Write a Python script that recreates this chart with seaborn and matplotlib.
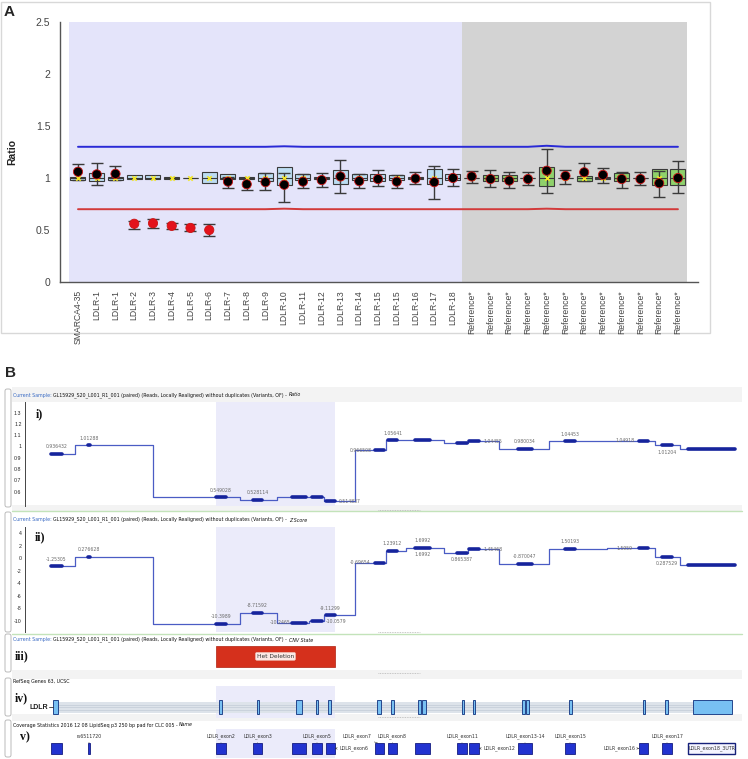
import numpy as np
import pandas as pd
import matplotlib
matplotlib.use("Agg")
import matplotlib.pyplot as plt
import seaborn as sns
from matplotlib.patches import Rectangle, FancyBboxPatch

# ---------------- Panel A: MLPA-style probe ratios ----------------
probe_labels = ["SMARCA4-35", "LDLR-1", "LDLR-1", "LDLR-2", "LDLR-3", "LDLR-4", "LDLR-5",
                "LDLR-6", "LDLR-7", "LDLR-8", "LDLR-9", "LDLR-10", "LDLR-11", "LDLR-12",
                "LDLR-13", "LDLR-14", "LDLR-15", "LDLR-15", "LDLR-16", "LDLR-17", "LDLR-18"] + ["Reference*"] * 12
probe_group = ["sample"] * 21 + ["reference"] * 12

ratio = [1.06, 1.035, 1.04, 0.56, 0.565, 0.54, 0.52, 0.50, 0.965, 0.94, 0.96, 0.935, 0.965,
         0.98, 1.015, 0.97, 0.99, 0.965, 0.995, 0.96, 1.0,
         1.015, 0.99, 0.975, 0.99, 1.07, 1.02, 1.055, 1.03, 0.99, 0.99, 0.95, 1.0]
ratio_lo = [0.98, 0.93, 0.98, 0.51, 0.52, 0.51, 0.49, 0.44, 0.90, 0.88, 0.88, 0.77, 0.90,
            0.91, 0.86, 0.905, 0.92, 0.90, 0.94, 0.80, 0.92,
            0.95, 0.915, 0.905, 0.93, 0.855, 0.945, 0.975, 0.95, 0.905, 0.935, 0.82, 0.855]
ratio_hi = [1.13, 1.14, 1.115, 0.59, 0.61, 0.57, 0.56, 0.56, 1.01, 1.0, 1.045, 1.05, 1.04,
            1.045, 1.17, 1.04, 1.075, 1.03, 1.055, 1.12, 1.09,
            1.07, 1.075, 1.055, 1.055, 1.28, 1.075, 1.14, 1.095, 1.06, 1.06, 1.07, 1.16]
box_lo = [0.985, 0.97, 0.985, 0.99, 0.99, 0.995, 0.998, 0.955, 0.99, 0.995, 0.97, 0.93, 0.985,
          0.99, 0.945, 0.985, 0.975, 0.985, 0.995, 0.94, 0.98,
          0.998, 0.975, 0.975, 0.998, 0.92, 0.998, 0.975, 0.995, 0.97, 0.998, 0.935, 0.935]
box_hi = [1.01, 1.05, 1.005, 1.025, 1.025, 1.005, 1.002, 1.055, 1.035, 1.005, 1.045, 1.105, 1.04,
          1.01, 1.08, 1.04, 1.035, 1.025, 1.005, 1.09, 1.035,
          1.002, 1.03, 1.03, 1.002, 1.105, 1.002, 1.02, 1.005, 1.045, 1.002, 1.09, 1.09]
box_med = [1.0] * 33
upper_thr = [1.30] * 11 + [1.305] + [1.30] * 13 + [1.31] + [1.30] * 7
lower_thr = [0.70] * 11 + [0.705] + [0.70] * 13 + [0.705] + [0.70] * 7

# ---------------- Panel B: CLC CNV tracks ----------------
exon_names = ["", "rs6511720", "LDLR_exon2", "LDLR_exon3", "", "LDLR_exon5", "LDLR_exon6",
              "LDLR_exon7", "LDLR_exon8", "", "LDLR_exon11", "LDLR_exon12", "LDLR_exon13-14",
              "LDLR_exon15", "LDLR_exon16", "LDLR_exon17", "LDLR_exon18_3UTR"]
exon_start = [51, 88, 216, 253, 292, 312, 326, 375, 388, 415, 457, 469, 518, 565, 639, 662, 688]
exon_end = [62, 90, 226, 262, 306, 322, 335, 384, 397, 430, 467, 479, 532, 575, 648, 672, 735]
ratio_track = [0.936432, 1.01288, 0.549028, 0.528114, 0.552, 0.550, 0.514837, 0.966508, 1.05641,
               1.05641, 1.035, 1.04455, 0.980034, 1.04453, 1.04918, 1.01204, 0.981]
ratio_shown = [1, 1, 1, 1, 0, 0, 1, 1, 1, 0, 0, 1, 1, 1, 1, 1, 0]
zscore_track = [-1.25305, 0.276628, -10.3989, -8.71592, -10.2465, -10.0579, -9.11299, -0.69654,
                1.23912, 1.6992, 0.865387, 1.45468, -0.870047, 1.50193, 1.5959, 0.287529, -1.1]
zscore_shown = [1] * 16 + [0]
refseq_start = [53, 219, 257, 296, 316, 328, 377, 391, 418, 422, 462, 473, 522, 526, 569, 643, 665, 693]
refseq_end = [58, 222, 259, 302, 318, 331, 381, 394, 421, 426, 464, 475, 525, 529, 572, 645, 668, 732]
deletion_start, deletion_end = 216, 335
cnv_state = "Het Deletion"
sample_desc = "GL15929_S20_L001_R1_001 (paired) (Reads, Locally Realigned) without duplicates (Variants, OF)"

# label placement (layout only): a=above, b=below, l=left, r=right, ab=both
ratio_place = ["a", "a", "a", "a", "", "", "r", "l", "a", "", "", "r", "a", "a", "l", "b", ""]
zscore_place = ["a", "a", "a", "a", "l", "r", "a", "l", "a", "ab", "b", "r", "a", "a", "l", "b", ""]
name_place = ["", "a", "a", "a", "", "a", "r", "al", "a", "", "a", "r", "a", "a", "l", "a", "in"]

sns.set_style("white")
plt.rcParams["font.family"] = ["Liberation Sans", "DejaVu Sans"]
plt.rcParams["axes.unicode_minus"] = False

W, H = 748, 759
fig = plt.figure(figsize=(W / 100, H / 100), dpi=100)


def px_rect(left, top, right, bottom):
    return [left / W, 1 - bottom / H, (right - left) / W, (bottom - top) / H]


bg = fig.add_axes([0, 0, 1, 1], zorder=0)
bg.set_xlim(0, W)
bg.set_ylim(H, 0)
bg.axis("off")

# ---------- Panel A ----------
bg.add_patch(Rectangle((1, 2), 709, 331, fill=False, ec="#d8d8d8", lw=1))
bg.text(4, 12, "A", fontsize=11, fontweight="bold", va="center")

axA = fig.add_axes(px_rect(60, 22, 698, 282), zorder=1)
pos = np.arange(len(probe_labels))
dfA = pd.DataFrame({"pos": pos, "label": probe_labels, "group": probe_group, "ratio": ratio,
                    "lo": ratio_lo, "hi": ratio_hi, "q1": box_lo, "q3": box_hi, "med": box_med})
dfA["deleted"] = dfA["ratio"] < np.array(lower_thr)
n_sample = probe_group.count("sample")

axA.axvspan(-0.5, n_sample - 0.5, color="#e4e4fa", lw=0, zorder=0)
axA.axvspan(n_sample - 0.5, len(pos) - 0.5, color="#d3d3d3", lw=0, zorder=0)
sns.lineplot(x=pos, y=upper_thr, color="#2a2ad6", lw=1.4, ax=axA, zorder=1)
sns.lineplot(x=pos, y=lower_thr, color="#d23a3a", lw=1.4, ax=axA, zorder=1)

box_colors = dfA["group"].map({"sample": "#bcdcf2", "reference": "#8fd16b"})
axA.bar(dfA["pos"], dfA["q3"] - dfA["q1"], bottom=dfA["q1"], width=0.8, color=box_colors,
        edgecolor="#3a3a3a", lw=0.8, zorder=2)
axA.hlines(dfA["med"], dfA["pos"] - 0.4, dfA["pos"] + 0.4, color="#3a3a3a", lw=0.8, zorder=3)
axA.errorbar(dfA["pos"], dfA["ratio"], yerr=[dfA["ratio"] - dfA["lo"], dfA["hi"] - dfA["ratio"]],
             fmt="none", ecolor="#3a3a3a", elinewidth=1, capsize=4.5, capthick=1, zorder=3)
sns.scatterplot(x=dfA["pos"], y=dfA["med"], marker="x", color="#f2e626", s=10, linewidth=1.2,
                ax=axA, zorder=4)
sns.scatterplot(data=dfA, x="pos", y="ratio", hue="deleted",
                palette={False: "black", True: "#e3121b"}, edgecolor="#cc1414", linewidth=0.6,
                s=44, legend=False, ax=axA, zorder=5)

axA.set_facecolor("white")
axA.set_xlim(-0.96, 33.07)
axA.set_ylim(0, 2.5)
axA.set_yticks([0, 0.5, 1, 1.5, 2, 2.5])
axA.set_yticklabels(["0", "0.5", "1", "1.5", "2", "2.5"])
axA.set_xticks(pos)
axA.set_xticklabels(probe_labels, rotation=90, fontsize=6.2)
for s in ["top", "right"]:
    axA.spines[s].set_visible(False)
for s in ["left", "bottom"]:
    axA.spines[s].set_color("#555")
    axA.spines[s].set_linewidth(1)
axA.tick_params(axis="y", direction="out", length=5, width=0.8, color="#555", labelsize=7.5,
                labelcolor="#444", pad=2)
axA.tick_params(axis="x", direction="out", length=4, width=0.8, color="#555", labelcolor="#444", pad=2)
axA.set_xlabel("")
axA.set_ylabel("Ratio", fontweight="bold", fontsize=7.5, color="#222")
axA.yaxis.set_label_coords(-0.067, 0.5)

# ---------- Panel B frame pieces ----------
bg.text(5, 373, "B", fontsize=11, fontweight="bold", va="center")
small = dict(family="DejaVu Sans", fontsize=3.45)

for y0, y1 in [(387, 402), (505, 511), (670, 679), (714, 721)]:
    bg.add_patch(Rectangle((12, y0), 730, y1 - y0, color="#f3f3f3", lw=0))
for yl in [511, 634]:
    bg.plot([12, 742], [yl, yl], color="#c3e3ba", lw=1)
for yd in [510, 632, 673, 717]:
    bg.plot([378, 420], [yd, yd], color="#b5b5b5", lw=0.6, ls=(0, (1, 1)))
for t, b in [(389, 507), (512, 632), (634, 672), (678, 716), (720, 757)]:
    bg.add_patch(FancyBboxPatch((5, t), 6, b - t, boxstyle="round,pad=0,rounding_size=2",
                                fc="white", ec="#b0b0b0", lw=0.6))


def sample_header(y, tail):
    t1 = bg.text(13, y, "Current Sample: ", color="#3a6bc4", va="center", ha="left", **small)
    t2 = bg.annotate(sample_desc + " - ", xy=(1, 0), xycoords=t1, va="bottom", ha="left",
                     color="#111", **small)
    bg.annotate(tail, xy=(1, 0), xycoords=t2, va="bottom", ha="left", color="#111",
                style="italic", **small)


sample_header(395, "Ratio")
sample_header(520, "Z Score")
sample_header(640, "CNV State")
bg.text(13, 682, "RefSeq Genes 63, UCSC", color="#111", va="center", **small)
t5 = bg.text(13, 725, "Coverage Statistics 2016 12 08 LipidSeq p3 250 bp pad for CLC 005 - ",
             color="#111", va="center", **small)
bg.annotate("Name", xy=(1, 0), xycoords=t5, va="bottom", ha="left", style="italic", color="#111", **small)

roman = dict(family="Liberation Serif", fontsize=8.5, fontweight="bold", va="center", ha="left", color="#111")
bg.text(36, 414, "i)", **roman)
bg.text(35, 537, "ii)", **roman)
bg.text(15, 656, "iii)", **roman)
bg.text(15, 698, "iv)", **roman)
bg.text(20, 737, "v)", **roman)

n_ex = len(exon_start)
centers = [(a + b) / 2 for a, b in zip(exon_start, exon_end)]
bounds = [exon_start[0]] + [(exon_end[i] + exon_start[i + 1]) / 2 for i in range(n_ex - 1)] + [exon_end[-1]]
offs = {"a": (0, 7), "b": (0, -7), "l": (-19, 0), "r": (19, 0)}


def step_track(ax, vals, shown, place):
    ax.axvspan(deletion_start, deletion_end, color="#ebebfa", lw=0, zorder=0)
    sns.lineplot(x=bounds, y=list(vals) + [vals[-1]], drawstyle="steps-post", sort=False,
                 estimator=None, color="#4a5cc4", lw=0.9, ax=ax, zorder=2)
    ax.hlines(vals, exon_start, exon_end, color="#16249c", lw=2.6, capstyle="round", zorder=3)
    for c, v, s, p in zip(centers, vals, shown, place):
        if not s:
            continue
        for key in p:
            ax.annotate(f"{v:g}", xy=(c, v), xytext=offs[key], textcoords="offset pixels",
                        ha="center", va="center", color="#6a6a6a", family="DejaVu Sans",
                        fontsize=3.3, zorder=4)
    ax.set_xlim(25, 742)
    ax.set_facecolor("none")
    for s in ["top", "right", "bottom"]:
        ax.spines[s].set_visible(False)
    ax.spines["left"].set_color("#444")
    ax.spines["left"].set_linewidth(0.7)
    ax.set_xticks([])
    ax.tick_params(axis="y", which="major", direction="inout", length=3, width=0.6,
                   color="#444", labelsize=3.8, pad=1)
    ax.tick_params(axis="y", which="minor", direction="in", length=1.3, width=0.4, color="#444")
    ax.set_xlabel("")
    ax.set_ylabel("")


# track i) ratio
ax1 = fig.add_axes(px_rect(25, 402, 742, 506), zorder=1)
step_track(ax1, ratio_track, ratio_shown, ratio_place)
ax1.set_ylim(0.473, 1.394)
ax1.set_yticks(np.round(np.arange(0.5, 1.31, 0.1), 1))
ax1.set_yticklabels([""] + [f"{v:g}" for v in np.round(np.arange(0.6, 1.31, 0.1), 1)])
ax1.set_yticks(np.arange(0.5, 1.39, 0.025), minor=True)

# track ii) z score
ax2 = fig.add_axes(px_rect(25, 527, 742, 632), zorder=1)
step_track(ax2, zscore_track, zscore_shown, zscore_place)
ax2.set_ylim(-11.75, 5.0)
ax2.set_yticks(np.arange(-10, 5, 2))
ax2.set_yticks(np.arange(-11, 5, 0.5), minor=True)

# track iii) CNV state
ax3 = fig.add_axes(px_rect(25, 643, 742, 672), zorder=1)
ax3.add_patch(Rectangle((deletion_start, 0.17), deletion_end - deletion_start, 0.74,
                        fc="#d5301c", ec="#b02010", lw=0.5))
ax3.text((deletion_start + deletion_end) / 2, 0.54, cnv_state, ha="center", va="center",
         color="#333", family="DejaVu Sans", fontsize=4.2,
         bbox=dict(boxstyle="round,pad=0.25", fc="#fbe9e5", ec="#f0c0b5", lw=0.4))

# track iv) RefSeq gene model
ax4 = fig.add_axes(px_rect(25, 686, 742, 718), zorder=1)
ax4.axvspan(deletion_start, deletion_end, color="#ebebfa", lw=0, zorder=0)
ax4.add_patch(Rectangle((refseq_start[0], 0.16), refseq_end[-1] - refseq_start[0], 0.34,
                        fc="#dde3ea", lw=0, zorder=1))
ax4.hlines([0.25, 0.33, 0.41], refseq_start[0], refseq_end[-1], color="#bcc6d2", lw=0.4, zorder=1)
ax4.bar(refseq_start, 0.44, width=np.array(refseq_end) - np.array(refseq_start), bottom=0.11,
        align="edge", color="#78c0f2", edgecolor="#24468c", lw=0.7, zorder=2)
ax4.text(refseq_start[0] - 5, 0.33, "LDLR", ha="right", va="center", fontsize=5,
         fontweight="bold", color="#222")
ax4.plot([refseq_start[0] - 4.5, refseq_start[0]], [0.33, 0.33], color="#333", lw=0.6)

# track v) coverage regions
ax5 = fig.add_axes(px_rect(25, 729, 742, 758), zorder=1)
ax5.axvspan(deletion_start, deletion_end, color="#ebebfa", lw=0, zorder=0)
box_bottom, box_h = 0.14, 0.38
for a, b, name, p in zip(exon_start, exon_end, exon_names, name_place):
    c = (a + b) / 2
    mid = box_bottom + box_h / 2
    if p == "in":
        ax5.add_patch(Rectangle((a, box_bottom), b - a, box_h, fc="#f4f4ff", ec="#15207a", lw=1, zorder=2))
        ax5.text(c, mid, name, ha="center", va="center", color="#333", zorder=3, **small)
        continue
    ax5.add_patch(Rectangle((a, box_bottom), b - a, box_h, fc="#2233d0", ec="#141c80", lw=0.6, zorder=2))
    lab = dict(color="#333", zorder=3, **small)
    if p == "a":
        ax5.annotate(name, xy=(c, box_bottom + box_h), xytext=(c, 0.74), ha="center", va="center",
                     arrowprops=dict(arrowstyle="-", lw=0.4, color="#333", shrinkA=0, shrinkB=0), **lab)
    elif p == "al":
        ax5.annotate(name, xy=(c - 2, box_bottom + box_h), xytext=(c - 23, 0.74), ha="center", va="center",
                     arrowprops=dict(arrowstyle="-", lw=0.4, color="#333", shrinkA=0, shrinkB=0), **lab)
    elif p == "r":
        ax5.annotate(name, xy=(b, mid), xytext=(b + 4, mid), ha="left", va="center",
                     arrowprops=dict(arrowstyle="->", lw=0.4, color="#333", shrinkA=0, shrinkB=0,
                                     mutation_scale=3), **lab)
    elif p == "l":
        ax5.annotate(name, xy=(a, mid), xytext=(a - 4, mid), ha="right", va="center",
                     arrowprops=dict(arrowstyle="->", lw=0.4, color="#333", shrinkA=0, shrinkB=0,
                                     mutation_scale=3), **lab)

for ax in [ax3, ax4, ax5]:
    ax.set_xlim(25, 742)
    ax.set_ylim(0, 1)
    ax.set_facecolor("none")
    ax.axis("off")

fig.savefig("out.png", dpi=100, facecolor="white")
